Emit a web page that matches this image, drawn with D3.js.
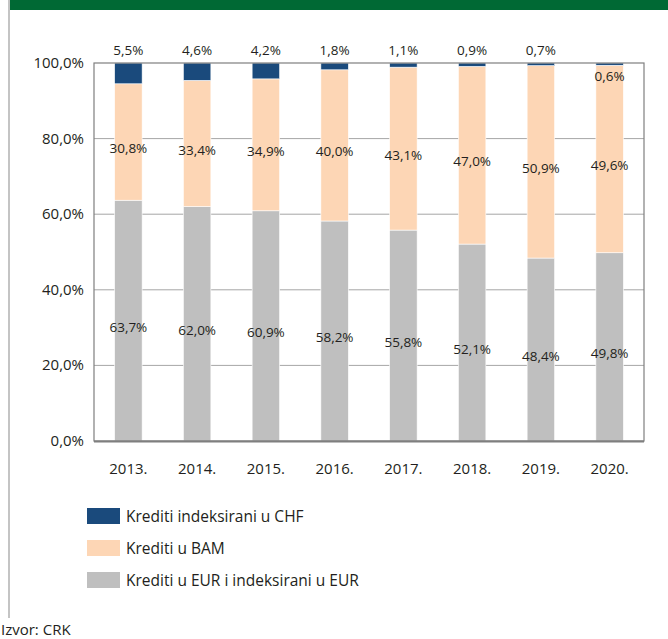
<!DOCTYPE html>
<html>
<head>
<meta charset="utf-8">
<script src="https://cdn.jsdelivr.net/npm/d3@7"></script>
<style>
  body { margin: 0; background: #fff; }
  svg { display: block; font-family: "Open Sans", "Noto Sans", sans-serif; }
</style>
</head>
<body>
<div id="chart"></div>
<script>
(function() {
  const years = ["2013.", "2014.", "2015.", "2016.", "2017.", "2018.", "2019.", "2020."];
  const eur = [63.7, 62.0, 60.9, 58.2, 55.8, 52.1, 48.4, 49.8];
  const bam = [30.8, 33.4, 34.9, 40.0, 43.1, 47.0, 50.9, 49.6];
  const chf = [5.5, 4.6, 4.2, 1.8, 1.1, 0.9, 0.7, 0.6];
  const yTicks = [0, 20, 40, 60, 80, 100];

  const seriesNames = ["Krediti indeksirani u CHF", "Krediti u BAM", "Krediti u EUR i indeksirani u EUR"];
  const colors = { eur: "#bfbfbf", bam: "#fdd6b5", chf: "#1a4a7c" };

  const width = 668, height = 639;
  const margin = { left: 94, right: 24, top: 63, bottom: 198 };

  const svg = d3.select("#chart").append("svg")
    .attr("width", width)
    .attr("height", height);

  // green header band + left rule
  svg.append("rect").attr("x", 10).attr("y", 0).attr("width", width - 10).attr("height", 10).attr("fill", "#006934");
  svg.append("line").attr("x1", 9).attr("x2", 9).attr("y1", 0).attr("y2", 618)
    .attr("stroke", "#b0b0b0").attr("stroke-width", 1.5);

  const x = d3.scaleBand()
    .domain(years)
    .range([margin.left, width - margin.right])
    .paddingInner(0.6)
    .paddingOuter(0.3);

  const y = d3.scaleLinear()
    .domain([0, 100])
    .range([height - margin.bottom, margin.top]);

  const fmt = v => d3.format(".1f")(v).replace(".", ",") + "%";

  // gridlines
  svg.append("g").selectAll("line")
    .data(yTicks.filter(t => t > 0 && t < 100))
    .join("line")
    .attr("x1", margin.left).attr("x2", width - margin.right)
    .attr("y1", d => y(d)).attr("y2", d => y(d))
    .attr("stroke", "#a6a6a6").attr("stroke-width", 1);

  // y axis labels
  svg.append("g").selectAll("text")
    .data(yTicks)
    .join("text")
    .attr("x", margin.left - 10)
    .attr("y", d => y(d) + 5)
    .attr("text-anchor", "end")
    .attr("font-size", 15)
    .attr("fill", "#231f20")
    .text(d => fmt(d));

  // stacked data
  const rows = years.map((yr, i) => ({ year: yr, eur: eur[i], bam: bam[i], chf: chf[i] }));
  const stack = d3.stack().keys(["eur", "bam", "chf"]);
  const stacked = stack(rows);

  svg.append("g").selectAll("g")
    .data(stacked)
    .join("g")
    .attr("fill", d => colors[d.key])
    .selectAll("rect")
    .data(d => d)
    .join("rect")
    .attr("x", d => x(d.data.year))
    .attr("width", x.bandwidth())
    .attr("y", d => y(Math.min(d[1], 100)))
    .attr("height", d => y(d[0]) - y(Math.min(d[1], 100)))
    .attr("stroke", "#fff")
    .attr("stroke-width", 0.6);

  // frame
  svg.append("rect")
    .attr("x", margin.left).attr("y", y(100))
    .attr("width", width - margin.right - margin.left)
    .attr("height", y(0) - y(100))
    .attr("fill", "none")
    .attr("stroke", "#7f7f7f").attr("stroke-width", 1.2);
  svg.append("line")
    .attr("x1", margin.left).attr("x2", width - margin.right)
    .attr("y1", y(0) + 0.5).attr("y2", y(0) + 0.5)
    .attr("stroke", "#7f7f7f").attr("stroke-width", 2);

  // data labels
  const lbl = svg.append("g").attr("font-size", 13.5).attr("fill", "#231f20").attr("text-anchor", "middle");
  rows.forEach((r, i) => {
    const cx = x(r.year) + x.bandwidth() / 2;
    lbl.append("text").attr("x", cx).attr("y", y(r.eur / 2) + 11).text(fmt(r.eur));
    lbl.append("text").attr("x", cx).attr("y", y(r.eur + r.bam / 2) + 11).text(fmt(r.bam));
    const last = i === rows.length - 1;
    lbl.append("text").attr("x", cx)
      .attr("y", last ? y(100) + 18 : y(100) - 8)
      .text(fmt(r.chf));
  });

  // x axis labels
  svg.append("g").selectAll("text")
    .data(years)
    .join("text")
    .attr("x", d => x(d) + x.bandwidth() / 2)
    .attr("y", y(0) + 33)
    .attr("text-anchor", "middle")
    .attr("font-size", 15)
    .attr("fill", "#231f20")
    .text(d => d);

  // legend
  const legendColors = [colors.chf, colors.bam, colors.eur];
  const leg = svg.append("g").selectAll("g")
    .data(seriesNames)
    .join("g")
    .attr("transform", (d, i) => `translate(87, ${508 + i * 32})`);
  leg.append("rect").attr("width", 33).attr("height", 16).attr("fill", (d, i) => legendColors[i]);
  leg.append("text").attr("x", 39).attr("y", 14)
    .attr("font-size", 15.5).attr("fill", "#231f20").text(d => d);

  svg.append("text").attr("x", 1).attr("y", 635)
    .attr("font-size", 15).attr("fill", "#231f20").text("Izvor: CRK");
})();
</script>
</body>
</html>
